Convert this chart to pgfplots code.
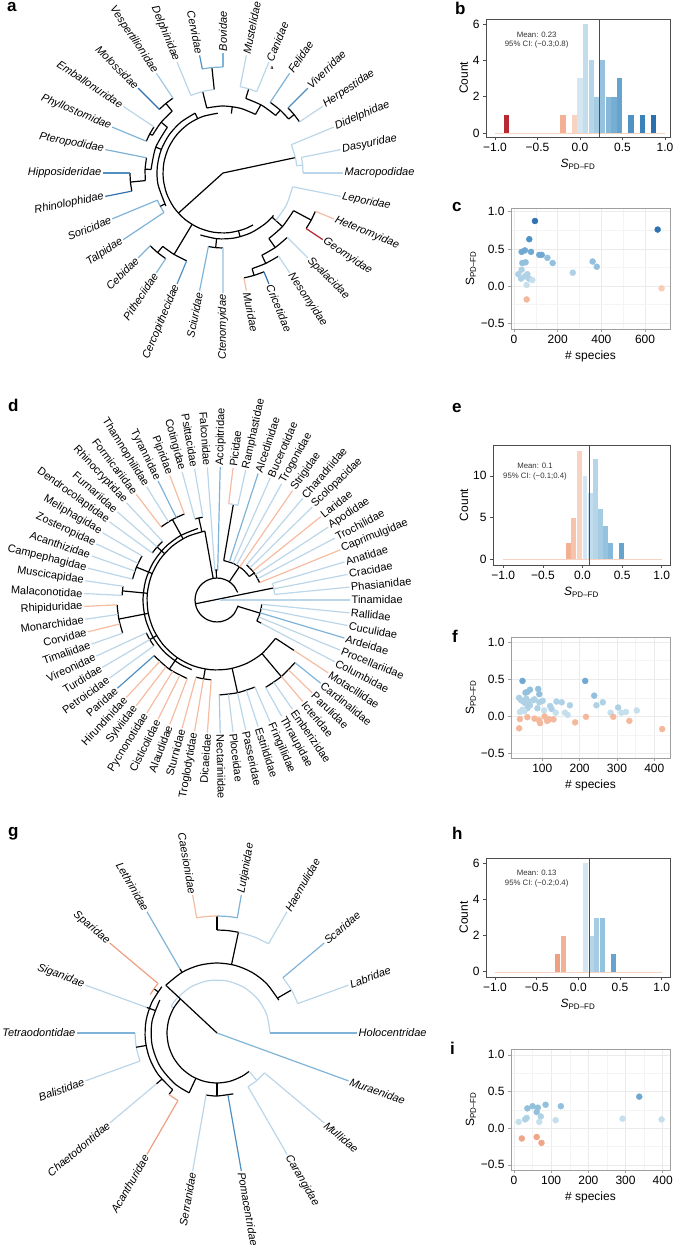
\documentclass[border=0pt]{standalone}
\usepackage{fontspec}
\setmainfont{Liberation Sans}
\usepackage{pgfplots}
\pgfplotsset{compat=1.18}
\usepgfplotslibrary{polar}

\definecolor{lb}{HTML}{BBD6E8}
\definecolor{lb2}{HTML}{A3C9E2}
\definecolor{mb}{HTML}{7FB3D7}
\definecolor{db}{HTML}{4F8FC2}
\definecolor{dbb}{HTML}{2F70AD}
\definecolor{orl}{HTML}{F5BCA2}
\definecolor{or}{HTML}{EE9F80}
\definecolor{rd}{HTML}{B52A33}
\definecolor{axgray}{HTML}{4D4D4D}
\definecolor{gridgray}{HTML}{EBEBEB}
% histogram shades
\definecolor{h0}{HTML}{D4E6F1}
\definecolor{h1}{HTML}{C4DDEC}
\definecolor{h2}{HTML}{B5D5E8}
\definecolor{h3}{HTML}{A5CCE3}
\definecolor{h4}{HTML}{95C2DE}
\definecolor{h5}{HTML}{85B8D9}
\definecolor{h6}{HTML}{76AED3}
\definecolor{h7}{HTML}{66A4CE}
\definecolor{h8}{HTML}{4F93C4}
\definecolor{h9}{HTML}{3B82BA}
\definecolor{h10}{HTML}{2A71AF}
\definecolor{o1}{HTML}{F9D3C1}
\definecolor{o2}{HTML}{F7C3AA}
\definecolor{o3}{HTML}{F3B094}
\definecolor{o4}{HTML}{EFA080}
% scatter shades
\definecolor{s1}{HTML}{2F73B2}
\definecolor{s2}{HTML}{4E93C5}
\definecolor{s3}{HTML}{6FA9D2}
\definecolor{s4}{HTML}{92C0DD}
\definecolor{s5}{HTML}{AFD1E6}
\definecolor{s6}{HTML}{C6DFED}
\definecolor{so}{HTML}{F4B89C}
\definecolor{so2}{HTML}{EFA586}
\definecolor{so3}{HTML}{F8CDB8}

\newcommand{\tfont}{\fontsize{11}{13}\selectfont\itshape}
\newcommand{\tipR}[5]{\addplot[#4,line width=1.2pt] coordinates {(#1,#2)(#1,#3)};
  \node[anchor=west,rotate={#1},inner sep=1.5pt,font=\tfont] at (axis cs:#1,#3) {#5};}
\newcommand{\tipL}[5]{\addplot[#4,line width=1.2pt] coordinates {(#1,#2)(#1,#3)};
  \node[anchor=east,rotate={#1-180},inner sep=1.5pt,font=\tfont] at (axis cs:#1,#3) {#5};}
\newcommand{\ar}[2]{\addplot[#1,line width=1.2pt,smooth] coordinates {#2};}
\newcommand{\br}[2]{\addplot[#1,line width=1.2pt] coordinates {#2};}

\tikzset{annot/.style={font=\fontsize{7.8}{9.4}\selectfont,align=center,text=black!80}}
\pgfplotsset{
  tree/.style={scale only axis,width=300pt,height=300pt,ymin=0,ymax=150,
    hide axis,clip=false,anchor=origin},
  common/.style={scale only axis,anchor=south west,
    /pgf/number format/assume math mode=true,
    tick label style={font=\fontsize{12}{14}\selectfont},
    label style={font=\fontsize{12}{14}\selectfont},
    tick align=outside,major tick length=3pt,minor tick length=0pt,
    xtick pos=bottom,ytick pos=left},
  hist/.style={common,axis line style={axgray,line width=0.6pt},
    tick style={axgray,line width=0.6pt},
    xtick={-1,-0.5,0,0.5,1},xticklabels={−1.0,−0.5,0.0,0.5,1.0},
    xlabel={\textit{S}\textsubscript{PD–FD}},ylabel={Count},
    ylabel style={yshift=-2pt}},
  sc/.style={common,axis line style={gray!75,line width=0.6pt},
    tick style={gray!75,line width=0.6pt},
    grid=both,major grid style={gridgray,line width=0.7pt},
    minor grid style={gridgray!55,line width=0.5pt},
    minor x tick num=1,minor y tick num=1,
    ytick={-0.5,0,0.5,1},yticklabels={−0.5,0.0,0.5,1.0},
    ymin=-0.577,ymax=1.05,
    xlabel={\# species},ylabel={S\textsubscript{PD–FD}},
    ylabel style={yshift=-2pt}},
  hb/.style={ybar,bar width=0.06,bar shift=0pt,draw=none,fill=#1},
  pt/.style={color=#1,only marks,mark=*,mark size=3pt,mark options={solid,fill=#1,draw=#1}},
}

\begin{document}
\begin{tikzpicture}
\useasboundingbox (0,0) rectangle (674pt,1250pt);

% ---------- panel letters
\begin{scope}[every node/.style={anchor=base west,font=\fontsize{17}{20}\selectfont\bfseries,inner sep=0pt}]
\node at (7pt,1238pt) {a};
\node at (455pt,1235pt) {b};
\node at (452pt,1038pt) {c};
\node at (8pt,838pt) {d};
\node at (452pt,837pt) {e};
\node at (452pt,607pt) {f};
\node at (8pt,413pt) {g};
\node at (452pt,410pt) {h};
\node at (450pt,195pt) {i};
\end{scope}

% ---------- a: mammal tree
\begin{polaraxis}[tree,at={(223pt,1077pt)}]
\br{black}{(12,0)(12,74)}
\br{black}{(222,0)(222,60)}
\ar{black}{(95,60)(110,60)(125,60)(140,60)(155,60)(170,60)(185,60)(200,60)(215,60)(230,60)(245,60)(260,60)(275,60)(290,60)(300,60)}
\ar{black}{(61,67)(75,67)(90,67)(104,67)}
\br{black}{(82,60)(82,67)}
\br{black}{(61,67)(61,78)}
\ar{black}{(47.6,78)(60,78)(73,78)}
\br{black}{(73,78)(73,88)}
\br{black}{(47.6,78)(47.6,85)}
\ar{black}{(39.4,85)(47.6,85)(56.25,85)}
\br{black}{(39.4,85)(39.4,92)}
\ar{black}{(33.75,92)(39.4,92)(45,92)}
\ar{lb}{(67.5,88)(73,88)(78.75,88)}
\br{black}{(104,67)(104,84)}
\ar{lb}{(96,84)(104,84)(112.5,84)}
\br{black}{(96,84)(96,106)}
\ar{mb}{(90,106)(96,106)(101.25,106)}
\ar{lb}{(5.6,74)(12,74)(22.5,74)}
\br{lb}{(5.6,74)(5.6,80)}
\ar{lb}{(0,80)(5.6,80)(11.25,80)}
\ar{black}{(115,66)(130,66)(145,66)(160,66)(175,66)(190,66)(210,66)}
\br{black}{(115,60)(115,66)}
\ar{black}{(123.75,90)(129.4,90)(135,90)}
\br{black}{(129.4,80)(129.4,90)}
\ar{black}{(146.25,83)(151.9,83)(157.5,83)}
\br{black}{(151.9,80)(151.9,83)}
\ar{black}{(129.4,80)(140.6,80)(151.9,80)}
\br{black}{(140.6,72)(140.6,80)}
\ar{black}{(180,93)(185.6,93)(191.25,93)}
\br{black}{(185.6,78)(185.6,93)}
\ar{black}{(168.75,78)(177.2,78)(185.6,78)}
\br{black}{(177.2,72)(177.2,78)}
\ar{black}{(140.6,72)(159,72)(177.2,72)}
\br{black}{(159,66)(159,72)}
\ar{mb}{(202.5,71)(208,71)(213.75,71)}
\br{black}{(208,66)(208,71)}
\ar{black}{(225,103)(230.6,103)(236.25,103)}
\br{black}{(230.6,95)(230.6,103)}
\ar{black}{(230.6,95)(239,95)(247.5,95)}
\br{black}{(239,60)(239,95)}
\ar{black}{(250,66)(265,66)(280,66)(295,66)(310,66)(320,66)}
\br{black}{(285,60)(285,66)}
\ar{black}{(258.75,75)(264.4,75)(270,75)}
\br{black}{(264.4,66)(264.4,75)}
\ar{black}{(281.25,107)(286.9,107)(292.5,107)}
\br{black}{(286.9,100)(286.9,107)}
\ar{black}{(286.9,100)(295.3,100)(303.75,100)}
\br{black}{(295.3,91)(295.3,100)}
\ar{black}{(295.3,91)(305,91)(315,91)}
\br{black}{(305,80)(305,91)}
\ar{black}{(326.25,100)(331.9,100)(337.5,100)}
\br{black}{(331.9,80)(331.9,100)}
\ar{black}{(305,80)(318,80)(331.9,80)}
\br{black}{(318,66)(318,80)}
\ar{lb}{(318,71)(333,71)(348.75,71)}
\tipR{0}{80}{120}{lb}{Macropodidae}
\tipR{11.25}{80}{120}{lb}{Dasyuridae}
\tipR{22.5}{74}{120}{lb}{Didelphidae}
\tipR{33.75}{92}{120}{lb}{Herpestidae}
\tipR{45}{92}{120}{db}{Viverridae}
\tipR{56.25}{85}{120}{mb}{Felidae}
\tipR{67.5}{88}{120}{lb}{Canidae}
\tipR{78.75}{88}{120}{lb}{Mustelidae}
\tipR{90}{106}{120}{mb}{Bovidae}
\tipL{101.25}{106}{120}{db}{Cervidae}
\tipL{112.5}{84}{120}{lb}{Delphinidae}
\tipL{123.75}{90}{120}{lb2}{Vespertilionidae}
\tipL{135}{90}{120}{dbb}{Molossidae}
\tipL{146.25}{83}{120}{lb}{Emballonuridae}
\tipL{157.5}{83}{120}{mb}{Phyllostomidae}
\tipL{168.75}{78}{120}{mb}{Pteropodidae}
\tipL{180}{93}{120}{db}{Hipposideridae}
\tipL{191.25}{93}{120}{dbb}{Rhinolophidae}
\tipL{202.5}{71}{120}{mb}{Soricidae}
\tipL{213.75}{71}{120}{mb}{Talpidae}
\tipL{225}{103}{120}{mb}{Cebidae}
\tipL{236.25}{103}{120}{mb}{Pitheciidae}
\tipL{247.5}{95}{120}{db}{Cercopithecidae}
\tipL{258.75}{75}{120}{mb}{Sciuridae}
\tipL{270}{75}{120}{lb}{Ctenomyidae}
\tipR{281.25}{107}{120}{orl}{Muridae}
\tipR{292.5}{107}{120}{dbb}{Cricetidae}
\tipR{303.75}{100}{120}{lb}{Nesomyidae}
\tipR{315}{91}{120}{lb}{Spalacidae}
\tipR{326.25}{100}{120}{rd}{Geomyidae}
\tipR{337.5}{100}{120}{orl}{Heteromyidae}
\tipR{348.75}{71}{120}{lb}{Leporidae}
\node[font=\fontsize{5}{6}\selectfont\bfseries] at (axis cs:65,116) {a};
\end{polaraxis}

% ---------- d: bird tree
\renewcommand{\tfont}{\fontsize{11}{13}\selectfont}
\begin{polaraxis}[tree,at={(217pt,650pt)}]
\ar{black}{(20,22)(40,22)(60,22)(80,22)(100,22)(120,22)(140,22)(160,22)(180,22)(200,22)(220,22)(240,22)(260,22)(280,22)(300,22)(320,22)(345,22)}
\br{black}{(190,22)(12,58)}
\ar{lb}{(5.54,58)(11.08,58)(16.62,58)}
\br{black}{(56,22)(56,40)}
\ar{black}{(36,40)(50,40)(65,40)(80.3,40)}
\br{black}{(36,40)(36,46)}
\ar{black}{(22.15,46)(36,46)(49.85,46)}
\br{black}{(80.3,40)(80.3,97)}
\ar{lb}{(77.54,97)(80.3,97)(83.08,97)}
\ar{black}{(88.62,30)(91.4,30)(94.15,30)}
\br{black}{(91.4,22)(91.4,30)}
\br{black}{(100,22)(100,70)}
\ar{black}{(100,70)(115,70)(130,70)(145,70)(160,70)(175,70)(190,70)(205,70)(220,70)(235,70)(250,70)(265,70)(280,70)(295,70)(310,70)(326.77,70)}
\ar{black}{(105,74)(120,74)(135,74)(150,74)(165,74)(180,74)(195,74)(210,74)(225,74)(240,74)(250,74)}
\ar{black}{(99.69,84)(102.5,84)(105.23,84)}
\br{black}{(102.5,70)(102.5,84)}
\ar{black}{(110.77,92)(119,92)(127.38,92)}
\br{black}{(119,70)(119,92)}
\ar{black}{(132.92,80)(138.5,80)(144,80)}
\br{black}{(138.5,70)(138.5,80)}
\ar{black}{(149.54,87)(157.8,87)(166.15,87)}
\br{black}{(157.8,70)(157.8,87)}
\ar{black}{(171.69,95)(174.5,95)(177.23,95)}
\br{black}{(174.5,70)(174.5,95)}
\ar{black}{(182.77,100)(191,100)(199.38,100)}
\br{black}{(191,70)(191,100)}
\ar{black}{(204.92,78)(210.5,78)(216,78)}
\br{black}{(210.5,70)(210.5,78)}
\ar{black}{(221.54,84)(235.4,84)(249.23,84)}
\br{black}{(235.4,70)(235.4,84)}
\ar{black}{(254.77,80)(260.3,80)(265.85,80)}
\br{black}{(260.3,70)(260.3,80)}
\ar{black}{(271.38,95)(282.5,95)(293.54,95)}
\br{black}{(282.5,70)(282.5,95)}
\ar{black}{(299.08,100)(310,100)(321.23,100)}
\br{black}{(310,70)(310,100)}
\br{black}{(326.77,70)(326.77,92)}
\ar{black}{(332.31,45)(343,45)(354.46,45)}
\br{black}{(343,22)(343,45)}
\br{black}{(332.31,45)(332.31,50)}
\tipR{0}{3}{133}{lb}{Tinamidae}
\tipR{5.54}{58}{133}{lb}{Phasianidae}
\tipR{11.08}{58}{133}{lb}{Cracidae}
\tipR{16.62}{58}{133}{lb}{Anatidae}
\tipR{22.15}{46}{133}{orl}{Caprimulgidae}
\tipR{27.69}{46}{133}{lb}{Trochilidae}
\tipR{33.23}{46}{133}{lb}{Apodidae}
\tipR{38.77}{46}{133}{orl}{Laridae}
\tipR{44.31}{46}{133}{lb}{Scolopacidae}
\tipR{49.85}{46}{133}{lb}{Charadriidae}
\tipR{55.38}{40}{133}{orl}{Strigidae}
\tipR{60.92}{40}{133}{lb}{Trogonidae}
\tipR{66.46}{40}{133}{lb}{Bucerotidae}
\tipR{72.0}{40}{133}{mb}{Alcedinidae}
\tipR{77.54}{97}{133}{lb}{Ramphastidae}
\tipR{83.08}{97}{133}{orl}{Picidae}
\tipR{88.62}{30}{133}{mb}{Accipitridae}
\tipL{94.15}{30}{133}{lb}{Falconidae}
\tipL{99.69}{84}{133}{lb}{Psittacidae}
\tipL{105.23}{84}{133}{lb}{Cotingidae}
\tipL{110.77}{92}{133}{orl}{Pipridae}
\tipL{116.31}{92}{133}{mb}{Tyrannidae}
\tipL{121.85}{92}{133}{lb}{Thamnophilidae}
\tipL{127.38}{92}{133}{orl}{Formicariidae}
\tipL{132.92}{80}{133}{lb}{Rhinocryptidae}
\tipL{138.46}{80}{133}{lb}{Furnariidae}
\tipL{144.0}{80}{133}{lb}{Dendrocolaptidae}
\tipL{149.54}{87}{133}{lb}{Meliphagidae}
\tipL{155.08}{87}{133}{lb}{Zosteropidae}
\tipL{160.62}{87}{133}{lb}{Acanthizidae}
\tipL{166.15}{87}{133}{lb}{Campephagidae}
\tipL{171.69}{95}{133}{lb}{Muscicapidae}
\tipL{177.23}{95}{133}{lb}{Malaconotidae}
\tipL{182.77}{100}{133}{orl}{Rhipiduridae}
\tipL{188.31}{100}{133}{lb}{Monarchidae}
\tipL{193.85}{100}{133}{orl}{Corvidae}
\tipL{199.38}{100}{133}{lb}{Timaliidae}
\tipL{204.92}{78}{133}{lb}{Vireonidae}
\tipL{210.46}{78}{133}{lb}{Turdidae}
\tipL{216.0}{78}{133}{lb}{Petroicidae}
\tipL{221.54}{84}{133}{db}{Paridae}
\tipL{227.08}{84}{133}{orl}{Hirundinidae}
\tipL{232.62}{84}{133}{orl}{Sylviidae}
\tipL{238.15}{84}{133}{orl}{Pycnonotidae}
\tipL{243.69}{84}{133}{orl}{Cisticolidae}
\tipL{249.23}{84}{133}{orl}{Alaudidae}
\tipL{254.77}{80}{133}{orl}{Sturnidae}
\tipL{260.31}{80}{133}{orl}{Troglodytidae}
\tipL{265.85}{80}{133}{orl}{Dicaeidae}
\tipR{271.38}{95}{133}{lb2}{Nectariniidae}
\tipR{276.92}{95}{133}{lb}{Ploceidae}
\tipR{282.46}{95}{133}{lb}{Passeridae}
\tipR{288.0}{95}{133}{lb}{Estrildidae}
\tipR{293.54}{95}{133}{lb}{Fringillidae}
\tipR{299.08}{100}{133}{lb}{Thraupidae}
\tipR{304.62}{100}{133}{lb}{Emberizidae}
\tipR{310.15}{100}{133}{orl}{Icteridae}
\tipR{315.69}{100}{133}{orl}{Parulidae}
\tipR{321.23}{100}{133}{mb}{Cardinalidae}
\tipR{326.77}{92}{133}{orl}{Motacillidae}
\tipR{332.31}{50}{133}{lb}{Columbidae}
\tipR{337.85}{45}{133}{lb}{Procellariidae}
\tipR{343.38}{45}{133}{mb}{Ardeidae}
\tipR{348.92}{45}{133}{lb}{Cuculidae}
\tipR{354.46}{45}{133}{lb}{Rallidae}
\end{polaraxis}

% ---------- g: fish tree
\renewcommand{\tfont}{\fontsize{11}{13}\selectfont\itshape}
\begin{polaraxis}[tree,at={(217pt,217pt)}]
\ar{lb}{(0,53)(20,53)(40,53)(60,53)(80,53)(100,53)(120,53)(140,53)(150,53)}
\br{lb}{(150,50)(150,53)}
\br{black}{(137,0)(137,70)}
\ar{black}{(137,50)(150,50)(165,50)(180,50)(195,50)(210,50)(225,50)(240,50)(255,50)(270,50)(285,50)(300,50)(310,50)}
\ar{black}{(28,70)(45,70)(60,70)(75,70)(90,70)(105,70)(120,70)(137,70)}
\br{black}{(30,70)(30,86)}
\ar{lb}{(20,86)(30,86)(40,86)}
\br{black}{(78,70)(78,103)}
\ar{lb}{(60,103)(69,103)(78,103)}
\ar{black}{(78,103)(84,103)(90,103)}
\br{black}{(90,103)(90,117)}
\ar{mb}{(80,117)(85,117)(90,117)}
\ar{orl}{(90,117)(95,117)(100,117)}
\br{black}{(120,70)(120,74)}
\ar{black}{(140,72)(155,72)(170,72)(185,72)(200,72)(215,72)(232,72)}
\ar{black}{(150,66)(170,66)(190,66)(210,66)(230,66)(245,66)}
\br{black}{(245,50)(245,66)}
\br{black}{(160,66)(160,72)}
\br{black}{(145,72)(145,77)}
\ar{or}{(140,77)(145,77)(150,77)}
\br{black}{(160,72)(160,75)}
\ar{lb}{(180,82)(190,82)(200,82)}
\br{black}{(190,72)(190,82)}
\br{black}{(220,72)(220,79)}
\br{black}{(232,72)(232,78)}
\ar{or}{(232,78)(236,78)(240,78)}
\ar{black}{(260,63)(270,63)(285,63)}
\br{black}{(270,50)(270,63)}
\ar{lb}{(300,62)(310,62)(320,62)}
\br{lb}{(310,50)(310,62)}
\tipR{0}{53}{140}{mb}{Holocentridae}
\tipR{20}{86}{140}{lb}{Labridae}
\tipR{40}{86}{140}{mb}{Scaridae}
\tipR{60}{103}{140}{lb}{Haemulidae}
\tipR{80}{117}{140}{mb}{Lutjanidae}
\tipL{100}{117}{140}{orl}{Caesionidae}
\tipL{120}{74}{140}{mb}{Lethrinidae}
\tipL{140}{77}{140}{or}{Sparidae}
\tipL{160}{75}{140}{lb}{Siganidae}
\tipL{180}{82}{140}{mb}{Tetraodontidae}
\tipL{200}{82}{140}{lb}{Balistidae}
\tipL{220}{79}{140}{lb}{Chaetodontidae}
\tipL{240}{78}{140}{or}{Acanthuridae}
\tipL{260}{63}{140}{lb}{Serranidae}
\tipR{280}{63}{140}{db}{Pomacentridae}
\tipR{300}{62}{140}{lb}{Carangidae}
\tipR{320}{62}{140}{lb}{Mullidae}
\tipR{340}{0}{140}{mb}{Muraenidae}
\end{polaraxis}

% ---------- b: histogram
\begin{axis}[hist,at={(486pt,1113pt)},width=184pt,height=118pt,
  xmin=-1.106,xmax=1.059,ymin=-0.22,ymax=6.27,ytick={0,2,4,6}]
\addplot[o1,line width=0.5pt] coordinates {(-1,0)(1,0)};
\addplot[hb=rd] coordinates {(-0.867,1)};
\addplot[hb=o3] coordinates {(-0.2,1)};
\addplot[hb=o1] coordinates {(-0.067,1)};
\addplot[hb=h0] coordinates {(0,3)};
\addplot[hb=h1] coordinates {(0.067,6)};
\addplot[hb=h2] coordinates {(0.133,4)};
\addplot[hb=h3] coordinates {(0.2,2)};
\addplot[hb=h4] coordinates {(0.267,4)};
\addplot[hb=h5] coordinates {(0.333,2)};
\addplot[hb=h6] coordinates {(0.4,2)};
\addplot[hb=h7] coordinates {(0.467,3)};
\addplot[hb=h8] coordinates {(0.6,1)};
\addplot[hb=h9] coordinates {(0.733,1)};
\addplot[hb=h10] coordinates {(0.867,1)};
\addplot[axgray,line width=0.6pt] coordinates {(0.23,-0.22)(0.23,6.27)};
\node[annot] at (axis cs:-0.51,5.1) {Mean: 0.23\\95\% CI: (−0.3;0.8)};
\end{axis}

% ---------- c: scatter
\begin{axis}[sc,at={(511pt,921pt)},width=159pt,height=121pt,
  xmin=-13.7,xmax=714.5,xtick={0,200,400,600}]
\addplot[pt=s1] coordinates {(96,0.875)(658,0.76)};
\addplot[pt=s2] coordinates {(70,0.63)};
\addplot[pt=s3] coordinates {(35,0.46)(50,0.48)(78,0.46)(116,0.42)(127,0.42)};
\addplot[pt=s4] coordinates {(153,0.38)(177,0.31)(38,0.31)(53,0.32)(360,0.33)(379,0.26)};
\addplot[pt=s5] coordinates {(35,0.22)(20,0.16)(32,0.10)(61,0.16)(69,0.10)(50,0.13)(269,0.18)};
\addplot[pt=s6] coordinates {(84,0.08)(58,0.015)};
\addplot[pt=so] coordinates {(58,-0.18)};
\addplot[pt=so3] coordinates {(676,-0.03)};
\end{axis}

% ---------- e: histogram
\begin{axis}[hist,at={(493pt,685pt)},width=177pt,height=120pt,
  xmin=-1.13,xmax=1.105,ymin=-0.68,ymax=13.7,ytick={0,5,10}]
\addplot[o1,line width=0.5pt] coordinates {(-1,0)(1,0)};
\addplot[hb=o3] coordinates {(-0.177,2)};
\addplot[hb=o2] coordinates {(-0.11,5)};
\addplot[hb=o1] coordinates {(-0.037,13)};
\addplot[hb=h0] coordinates {(0.032,10)};
\addplot[hb=h1] coordinates {(0.1,8)};
\addplot[hb=h2] coordinates {(0.168,12)};
\addplot[hb=h3] coordinates {(0.232,6)};
\addplot[hb=h4] coordinates {(0.295,4)};
\addplot[hb=h5] coordinates {(0.358,2)};
\addplot[hb=h7] coordinates {(0.49,2)};
\addplot[axgray,line width=0.6pt] coordinates {(0.09,-0.68)(0.09,13.7)};
\node[annot] at (axis cs:-0.6,10.5) {Mean: 0.1\\95\% CI: (−0.1;0.4)};
\end{axis}

% ---------- f: scatter
\begin{axis}[sc,at={(511pt,492pt)},width=159pt,height=121pt,
  xmin=16.2,xmax=442,xtick={100,200,300,400},ymax=1.07,ymin=-0.56]
\addplot[pt=s3] coordinates {(47,0.478)(215,0.478)};
\addplot[pt=s4] coordinates {(60,0.33)(67,0.36)(89,0.37)(92,0.30)(55,0.32)(239,0.28)};
\addplot[pt=s5] coordinates {(38,0.25)(43,0.22)(49,0.2)(54,0.18)(60,0.11)(67,0.15)(76,0.22)(79,0.23)(101,0.21)(92,0.19)(87,0.11)(121,0.14)(125,0.1)(138,0.2)(152,0.19)(174,0.15)(245,0.15)(262,0.19)(303,0.12)(57,0.24)(63,0.2)};
\addplot[pt=s6] coordinates {(40,0.06)(47,0.09)(136,0.05)(161,0.05)(168,0.02)(283,0.05)(312,0.05)(324,0.06)(353,0.08)(52,0.07)(105,0.08)};
\addplot[pt=so] coordinates {(38,-0.16)(40,-0.035)(60,-0.01)(79,-0.03)(91,-0.05)(94,-0.09)(106,0.0)(113,-0.06)(119,-0.04)(130,-0.04)(188,-0.08)(217,-0.005)(290,-0.005)(333,-0.06)(421,-0.17)};
\end{axis}

% ---------- h: histogram
\begin{axis}[hist,at={(486pt,273pt)},width=184pt,height=119pt,
  xmin=-1.108,xmax=1.1,ymin=-0.29,ymax=6.3,ytick={0,2,4,6}]
\addplot[o1,line width=0.5pt] coordinates {(-1,0)(1,0)};
\addplot[hb=o4] coordinates {(-0.246,1)};
\addplot[hb=o3] coordinates {(-0.18,2)};
\addplot[hb=h0] coordinates {(0.086,6)};
\addplot[hb=h2] coordinates {(0.154,2)};
\addplot[hb=h3] coordinates {(0.22,3)};
\addplot[hb=h4] coordinates {(0.286,3)};
\addplot[hb=h7] coordinates {(0.42,1)};
\addplot[axgray,line width=0.6pt] coordinates {(0.13,-0.29)(0.13,6.3)};
\node[annot] at (axis cs:-0.5,5.15) {Mean: 0.13\\95\% CI: (−0.2;0.4)};
\end{axis}

% ---------- i: scatter
\begin{axis}[sc,at={(511pt,80pt)},width=159pt,height=121pt,
  xmin=-8,xmax=419.6,xtick={0,100,200,300,400},ymax=1.08,ymin=-0.57]
\addplot[pt=s3] coordinates {(337,0.43)};
\addplot[pt=s4] coordinates {(36,0.27)(50,0.30)(64,0.28)(61,0.22)(85,0.32)(126,0.30)};
\addplot[pt=s5] coordinates {(30,0.12)(34,0.14)(72,0.16)};
\addplot[pt=s6] coordinates {(12.6,0.086)(68,0.086)(112,0.11)(292,0.13)(397,0.12)};
\addplot[pt=so2] coordinates {(21,-0.14)(61,-0.12)(74,-0.2)};
\end{axis}
\end{tikzpicture}
\end{document}
